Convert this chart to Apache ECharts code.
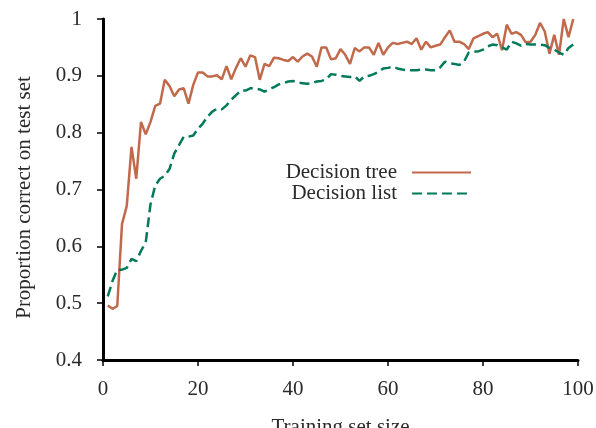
<!DOCTYPE html>
<html>
<head>
<meta charset="utf-8">
<script src="https://cdn.jsdelivr.net/npm/echarts@6/dist/echarts.min.js"></script>
<style>
html,body{margin:0;padding:0;background:#fff;}
#chart{width:596px;height:428px;}
</style>
</head>
<body>
<div id="chart"></div>
<script>
const trainingSizes = [];
for (let i = 1; i <= 99; i++) trainingSizes.push(i);

const decisionTree = [
  0.496, 0.490, 0.495, 0.639, 0.671, 0.775, 0.719, 0.819, 0.797, 0.819,
  0.847, 0.851, 0.893, 0.882, 0.864, 0.876, 0.878, 0.851, 0.884, 0.906,
  0.906, 0.899, 0.899, 0.901, 0.894, 0.917, 0.894, 0.914, 0.931, 0.916,
  0.936, 0.933, 0.893, 0.921, 0.917, 0.932, 0.931, 0.928, 0.926, 0.933,
  0.925, 0.934, 0.939, 0.934, 0.916, 0.950, 0.950, 0.929, 0.931, 0.947,
  0.937, 0.921, 0.949, 0.943, 0.950, 0.950, 0.937, 0.958, 0.937, 0.950,
  0.958, 0.956, 0.958, 0.960, 0.956, 0.966, 0.946, 0.960, 0.950, 0.953,
  0.955, 0.968, 0.980, 0.960, 0.960, 0.956, 0.947, 0.966, 0.970, 0.974,
  0.977, 0.968, 0.974, 0.945, 0.990, 0.974, 0.977, 0.972, 0.959, 0.960,
  0.972, 0.993, 0.978, 0.939, 0.972, 0.937, 1.000, 0.968, 1.000
];

const decisionList = [
  0.512, 0.539, 0.559, 0.559, 0.562, 0.578, 0.574, 0.592, 0.607, 0.674,
  0.707, 0.719, 0.724, 0.736, 0.763, 0.778, 0.793, 0.793, 0.795, 0.807,
  0.816, 0.828, 0.837, 0.842, 0.841, 0.848, 0.858, 0.866, 0.874, 0.874,
  0.878, 0.878, 0.876, 0.872, 0.876, 0.880, 0.885, 0.887, 0.890, 0.891,
  0.888, 0.887, 0.886, 0.887, 0.890, 0.891, 0.894, 0.903, 0.902, 0.900,
  0.899, 0.898, 0.899, 0.891, 0.899, 0.900, 0.903, 0.907, 0.913, 0.914,
  0.916, 0.913, 0.911, 0.910, 0.910, 0.910, 0.911, 0.911, 0.910, 0.910,
  0.915, 0.925, 0.922, 0.921, 0.919, 0.925, 0.941, 0.943, 0.943, 0.946,
  0.952, 0.955, 0.954, 0.950, 0.946, 0.960, 0.957, 0.953, 0.956, 0.955,
  0.955, 0.955, 0.954, 0.949, 0.946, 0.941, 0.937, 0.949, 0.955
];

const seriesNames = ['Decision tree', 'Decision list'];
const xAxisTitle = 'Training set size';
const yAxisTitle = 'Proportion correct on test set';

const FONT = '"Liberation Serif", "DejaVu Serif", serif';
const TEXT = '#2a2a2a';

function pairs(xs, ys) { return xs.map((x, i) => [x, ys[i]]); }

const chart = echarts.init(document.getElementById('chart'), null, {renderer: 'canvas'});
chart.setOption({
  animation: false,
  backgroundColor: '#ffffff',
  grid: {left: 103, right: 18, top: 19, bottom: 68, containLabel: false, outerBoundsMode: 'none'},
  legend: {
    data: seriesNames,
    orient: 'vertical',
    align: 'right',
    right: 124,
    top: 162,
    padding: 0,
    itemWidth: 59,
    itemHeight: 14,
    itemGap: 0,
    itemStyle: {opacity: 0, borderWidth: 0},
    textStyle: {fontFamily: FONT, fontSize: 21, color: TEXT, padding: [0, 10, 0, 0]}
  },
  xAxis: {
    type: 'value',
    min: 0, max: 100, interval: 20,
    name: xAxisTitle,
    nameLocation: 'middle',
    nameGap: 57,
    nameTextStyle: {fontFamily: FONT, fontSize: 21, color: TEXT},
    axisLine: {show: true, onZero: false, lineStyle: {color: '#000', width: 3}},
    axisTick: {show: true, inside: false, length: 6, lineStyle: {color: '#000', width: 1.5}},
    axisLabel: {fontFamily: FONT, fontSize: 21, color: TEXT, margin: 19},
    splitLine: {show: false}
  },
  yAxis: {
    type: 'value',
    min: 0.4, max: 1, interval: 0.1,
    name: yAxisTitle,
    nameLocation: 'middle',
    nameGap: 68,
    nameTextStyle: {fontFamily: FONT, fontSize: 21, color: TEXT, padding: [0, 16, 0, 0]},
    axisLine: {show: true, onZero: false, lineStyle: {color: '#000', width: 3}},
    axisTick: {show: true, inside: false, length: 6, lineStyle: {color: '#000', width: 1.5}},
    axisLabel: {
      fontFamily: FONT, fontSize: 21, color: TEXT, margin: 21,
      formatter: function (v) { return Math.abs(v - 1) < 1e-9 ? '1' : v.toFixed(1); }
    },
    splitLine: {show: false}
  },
  series: [
    {
      name: seriesNames[0],
      type: 'line',
      data: pairs(trainingSizes, decisionTree),
      symbol: 'none',
      showSymbol: false,
      lineStyle: {color: '#c1694b', width: 2.5},
      itemStyle: {color: '#c1694b'},
      z: 2
    },
    {
      name: seriesNames[1],
      type: 'line',
      data: pairs(trainingSizes, decisionList),
      symbol: 'none',
      showSymbol: false,
      lineStyle: {color: '#007a5a', width: 2.5, type: [10, 5]},
      itemStyle: {color: '#007a5a'},
      z: 3
    }
  ]
});
</script>
</body>
</html>
